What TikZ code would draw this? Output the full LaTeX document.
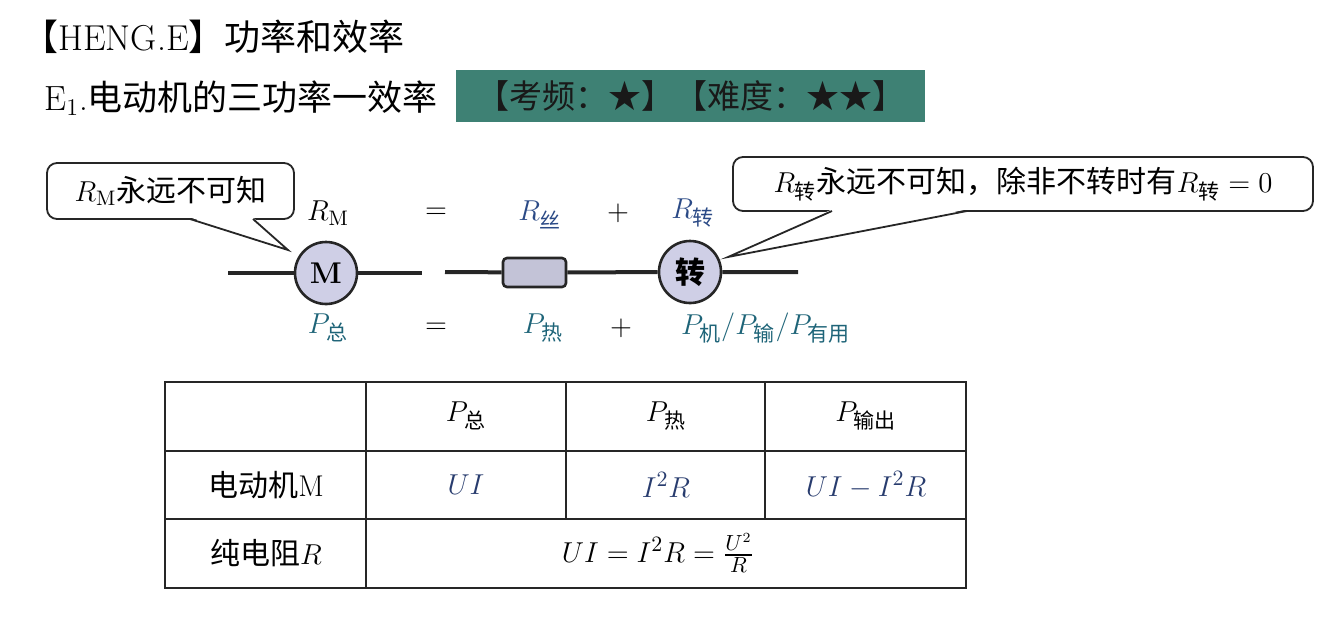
\documentclass[tikz,border=0pt]{standalone}
\usepackage{amsmath}
\usepackage{fontspec}
\newfontfamily\cjk{Noto Sans CJK SC}
\newcommand\zh[1]{\text{\cjk #1}}
\definecolor{tagteal}{HTML}{3E8174}
\definecolor{pteal}{HTML}{1E6478}
\definecolor{rblue}{HTML}{2B4A86}
\definecolor{navy}{HTML}{283C6E}
\definecolor{lav}{HTML}{CFCFE6}

\begin{document}
\begin{tikzpicture}[x=0.5pt,y=-0.5pt,
	big/.style={font=\fontsize{18}{21}\selectfont},
	lbl/.style={font=\fontsize{15}{18}\selectfont},
	wire/.style={line width=2pt,black!85},
	motor/.style={circle,draw=black!85,line width=1.3pt,fill=lav,minimum size=31pt,inner sep=0pt,font=\fontsize{15}{18}\selectfont},
	resbox/.style={rectangle,rounded corners=2pt,draw=black!85,line width=1.3pt,fill=lav!85!gray,minimum width=31.5pt,minimum height=14.5pt,inner sep=0pt},
	bubble/.style={rectangle,rounded corners=5pt,draw=black!85,line width=0.9pt,fill=white,inner sep=0pt,font=\fontsize{15}{18}\selectfont},
	cell/.style={font=\fontsize{15}{18}\selectfont}]
	\useasboundingbox (0,0) rectangle (1323,618);
	\node[big,anchor=west,inner sep=0pt] (title) at (22,37) {{\cjk 【}HENG.E{\cjk 】功率和效率}};
	\node[anchor=west,inner sep=0pt,font=\fontsize{17.5}{21}\selectfont] (sec) at (44,98) {E$_1$.{\cjk 电动机的三功率一效率}};
	\node[rectangle,fill=tagteal,minimum width=234.5pt,minimum height=26pt,inner sep=0pt,font=\fontsize{16.5}{19}\selectfont,text=black!90] (tag) at (690.5,96) {\cjk 【考频：★】【难度：★★】};

	\coordinate (a1) at (228,273);
	\coordinate (a2) at (422,273);
	\coordinate (b1) at (445,272);
	\coordinate (b2) at (798,272);
	\node[motor] (m) at (326,273) {\textbf{M}};
	\node[resbox] (r) at (534.5,272.5) {};
	\node[motor] (z) at (690,272) {\cjk\bfseries 转};
	\draw[wire] (a1) -- (m) -- (a2);
	\draw[wire] (b1) -- (r) -- (z) -- (b2);

	\node[lbl] (RM) at (328,213) {$R_{\mathrm{M}}$};
	\node[lbl] (eq1) at (436,213) {$=$};
	\node[lbl,text=rblue] (Rs) at (540,215) {$R_{\zh{丝}}$};
	\node[lbl] (pl1) at (618,213) {$+$};
	\node[lbl,text=rblue] (Rz) at (693,213) {$R_{\zh{转}}$};
	\node[lbl,text=pteal] (PT) at (328,328) {$P_{\zh{总}}$};
	\node[lbl] (eq2) at (436,328) {$=$};
	\node[lbl,text=pteal] (Ph) at (543,328) {$P_{\zh{热}}$};
	\node[lbl] (pl2) at (621,328) {$+$};
	\node[lbl,text=pteal,anchor=west] (Pj) at (674,328) {$P_{\zh{机}}/P_{\zh{输}}/P_{\zh{有用}}$};

	\node[bubble,minimum width=123.5pt,minimum height=28pt] (ln) at (170.5,191) {$R_{\mathrm{M}}${\cjk 永远不可知}};
	\coordinate (lb1) at (190,219);
	\coordinate (lb2) at (253,219);
	\coordinate (lt) at (288,250);
	\fill[white] ([yshift=0.8pt]lb1) -- (lt) -- ([yshift=0.8pt]lb2) -- cycle;
	\draw[line width=0.9pt,black!85] (lb1) -- (lt) -- (lb2);

	\node[bubble,minimum width=290pt,minimum height=27pt] (rn) at (1023,184) {$R_{\zh{转}}${\cjk 永远不可知，除非不转时有}$R_{\zh{转}}=0$};
	\coordinate (rb1) at (832,211);
	\coordinate (rb2) at (967,211);
	\coordinate (rt) at (728,257);
	\fill[white] ([yshift=0.8pt]rb1) -- (rt) -- ([yshift=0.8pt]rb2) -- cycle;
	\draw[line width=0.9pt,black!85] (rb1) -- (rt) -- (rb2);

	\draw[line width=0.8pt,black!85] (165,382) rectangle (966,588);
	\foreach \y in {451,519} \draw[line width=0.8pt,black!85] (165,\y) -- (966,\y);
	\draw[line width=0.8pt,black!85] (366,382) -- (366,588);
	\foreach \x in {566,765} \draw[line width=0.8pt,black!85] (\x,382) -- (\x,519);
	\node[cell] (h1) at (466,416) {$P_{\zh{总}}$};
	\node[cell] (h2) at (666,416) {$P_{\zh{热}}$};
	\node[cell] (h3) at (866,416) {$P_{\zh{输出}}$};
	\node[cell] (m0) at (266,485) {{\cjk 电动机}M};
	\node[cell,text=navy] (m1) at (466,485) {$UI$};
	\node[cell,text=navy] (m2) at (666,485) {$I^2R$};
	\node[cell,text=navy] (m3) at (866,485) {$UI-I^2R$};
	\node[cell] (r0) at (266,553) {{\cjk 纯电阻}$R$};
	\node[cell] (r1) at (658,553) {$UI=I^2R=\frac{U^2}{R}$};
\end{tikzpicture}
\end{document}
